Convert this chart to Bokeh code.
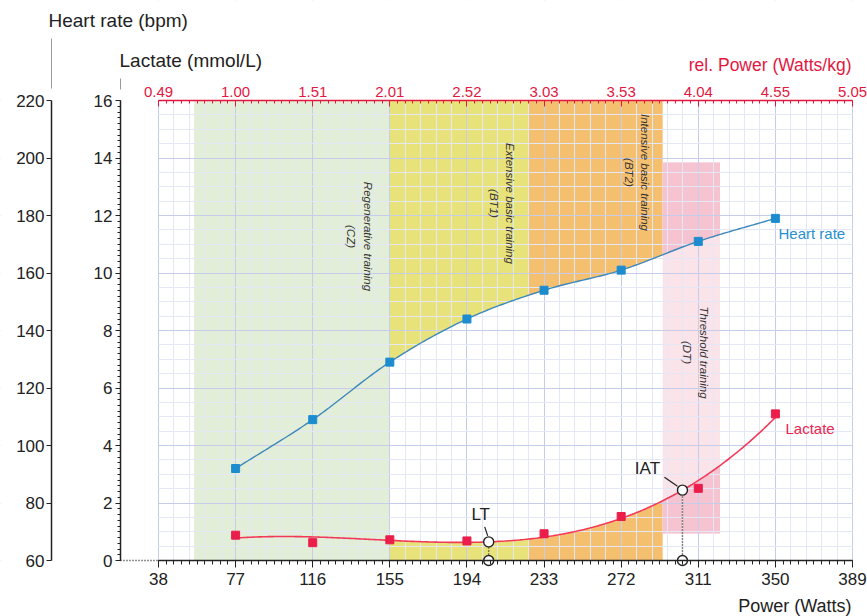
import numpy as np
from bokeh.plotting import figure
from bokeh.models import Range1d, LinearAxis, FixedTicker
from bokeh.core.properties import value
from bokeh.embed import file_html
from bokeh.resources import INLINE

# ---- step test results ----
power = [77, 116, 155, 194, 233, 272, 311, 350]
heart_rate = [92, 109, 129, 144, 154, 161, 171, 179]
lactate = [0.88, 0.62, 0.72, 0.68, 0.93, 1.53, 2.51, 5.10]

power_ticks = [38, 77, 116, 155, 194, 233, 272, 311, 350, 389]
rel_power_labels = ["0.49", "1.00", "1.51", "2.01", "2.52", "3.03", "3.53", "4.04", "4.55", "5.05"]
hr_ticks = [60, 80, 100, 120, 140, 160, 180, 200, 220]
lactate_ticks = [0, 2, 4, 6, 8, 10, 12, 14, 16]

# thresholds (power in watts)
lt_power = 205
iat_power = 303

# training zones: power range and lactate range
zone_names = ["Regenerative training\n(CZ)", "Extensive basic training\n(BT1)",
              "Intensive basic training\n(BT2)", "Threshold training\n(DT)"]
zone_start = [56, 155, 225, 293]
zone_end = [155, 225, 293, 322]
zone_bottom = [0, 0, 0, 0.94]
zone_top = [16, 16, 16, 13.84]

# ---- page geometry (pixels) ----
W, H = 867, 616
AX_L, AX_R = 158, 852            # first / last power tick
AX_T, AX_B = 100, 560            # lactate 16 / lactate 0
HR_AXIS_PX, LAC_AXIS_PX = 51, 120
PPW = (AX_R - AX_L) / (power_ticks[-1] - power_ticks[0])
PPL = (AX_B - AX_T) / (lactate_ticks[-1] - lactate_ticks[0])
HR_PER_LAC = (hr_ticks[-1] - hr_ticks[0]) / (lactate_ticks[-1] - lactate_ticks[0])


def px_x(px):
    return power_ticks[0] + (px - AX_L) / PPW


def px_y(py):
    return (AX_B - py) / PPL


FONT = "Liberation Sans"
INK = "#222222"
RED = "#e2183f"
BLUE_MARK = "#1c8ccf"
BLUE_LINE = "#3d88ba"
RED_MARK = "#ea1d4b"
RED_LINE = "#f23a58"

y_lo, y_hi = px_y(H), px_y(0)
p = figure(width=W, height=H, x_range=Range1d(px_x(0), px_x(W)),
           y_range=Range1d(y_lo, y_hi), output_backend="svg", toolbar_location=None,
           min_border=0)
p.outline_line_color = None
p.background_fill_color = "white"
p.border_fill_color = "white"
p.extra_y_ranges = {"hr": Range1d(hr_ticks[0] + y_lo * HR_PER_LAC,
                                  hr_ticks[0] + y_hi * HR_PER_LAC)}

# ---- grid ----
p.xgrid.ticker = FixedTicker(ticks=power_ticks,
                             minor_ticks=list(np.arange(38, 389.01, 7.8)))
p.ygrid.ticker = FixedTicker(ticks=lactate_ticks,
                             minor_ticks=list(np.arange(0, 16.01, 0.5)))
for g in (p.xgrid[0], p.ygrid[0]):
    g.grid_line_color = "#c6cdea"
    g.grid_line_width = 1
    g.minor_grid_line_color = "#e3e7f6"
    g.minor_grid_line_width = 1


def style_axis(ax, color, size, tick_in, tick_out, minor_in, minor_out, standoff):
    ax.axis_line_color = color
    ax.axis_line_width = 1.5
    ax.major_tick_line_color = color
    ax.minor_tick_line_color = color
    ax.major_tick_in = tick_in
    ax.major_tick_out = tick_out
    ax.minor_tick_in = minor_in
    ax.minor_tick_out = minor_out
    ax.major_label_text_font = FONT
    ax.major_label_text_font_size = size
    ax.major_label_text_color = color
    ax.major_label_standoff = standoff


# ---- axes ----
minor_power = list(np.arange(38, 389.01, 3.9))
xa = p.xaxis[0]
xa.ticker = FixedTicker(ticks=power_ticks, minor_ticks=minor_power)
xa.bounds = (power_ticks[0], power_ticks[-1])
xa.fixed_location = 0
style_axis(xa, INK, "17px", 0, 7, 0, 4, 5)

ta = LinearAxis(ticker=FixedTicker(ticks=power_ticks, minor_ticks=minor_power),
                major_label_overrides={t: s for t, s in zip(power_ticks, rel_power_labels)},
                bounds=(power_ticks[0], power_ticks[-1]), fixed_location=lactate_ticks[-1])
style_axis(ta, RED, "15px", 6, 0, 3, 0, 4)
p.add_layout(ta, "above")

ya = p.yaxis[0]
ya.ticker = FixedTicker(ticks=lactate_ticks, minor_ticks=list(np.arange(0, 16.01, 0.2)))
ya.bounds = (lactate_ticks[0], lactate_ticks[-1])
ya.fixed_location = px_x(LAC_AXIS_PX)
style_axis(ya, INK, "17px", 0, 5, 0, 3, 3)

ha = LinearAxis(y_range_name="hr", ticker=FixedTicker(ticks=hr_ticks, minor_ticks=[]),
                bounds=(hr_ticks[0], hr_ticks[-1]), fixed_location=px_x(HR_AXIS_PX))
style_axis(ha, INK, "17px", 0, 5, 0, 0, 2)
p.add_layout(ha, "left")


# ---- trend curves ----
def hermite(xk, yk, x):
    """Smooth curve passing through every measured point."""
    xk = np.asarray(xk, float)
    yk = np.asarray(yk, float)
    m = np.empty_like(yk)
    m[1:-1] = (yk[2:] - yk[:-2]) / (xk[2:] - xk[:-2])
    m[0] = (yk[1] - yk[0]) / (xk[1] - xk[0])
    m[-1] = (yk[-1] - yk[-2]) / (xk[-1] - xk[-2])
    x = np.asarray(x, float)
    i = np.clip(np.searchsorted(xk, x) - 1, 0, len(xk) - 2)
    h = xk[i + 1] - xk[i]
    t = (x - xk[i]) / h
    return ((2 * t**3 - 3 * t**2 + 1) * yk[i] + (t**3 - 2 * t**2 + t) * h * m[i]
            + (-2 * t**3 + 3 * t**2) * yk[i + 1] + (t**3 - t**2) * h * m[i + 1])


# lactate: least-squares cubic through the step values
lac_coef = np.polyfit(power, lactate, 3)


def hr_curve(x):
    return hermite(power, heart_rate, x)


def lac_curve(x):
    return np.polyval(lac_coef, x)


def hr_in_lac_units(x):
    return (hr_curve(x) - hr_ticks[0]) / HR_PER_LAC


# ---- training zones ----
GREEN = "#e3eed8"
YELLOW = "#e8e27a"
ORANGE = "#f5bf70"
PINK = "#f6c3d0"
PINK_LIGHT = "#fbe3ea"

p.quad(left=[zone_start[0]], right=[zone_end[0]], bottom=[zone_bottom[0]], top=[zone_top[0]],
       fill_color=GREEN, line_color=None, level="image")
for i, col in ((1, YELLOW), (2, ORANGE)):
    zx = np.linspace(zone_start[i], zone_end[i], 80)
    p.varea(x=zx, y1=hr_in_lac_units(zx), y2=np.full_like(zx, zone_top[i]),
            fill_color=col, level="image")
    p.varea(x=zx, y1=np.full_like(zx, zone_bottom[i]), y2=lac_curve(zx),
            fill_color=col, level="image")
p.quad(left=[zone_start[3]], right=[zone_end[3]], bottom=[zone_bottom[3]], top=[zone_top[3]],
       fill_color=PINK_LIGHT, line_color=None, level="image")
zx = np.linspace(zone_start[3], zone_end[3], 40)
p.varea(x=zx, y1=hr_in_lac_units(zx), y2=np.full_like(zx, zone_top[3]),
        fill_color=PINK, level="image")
p.varea(x=zx, y1=np.full_like(zx, zone_bottom[3]), y2=lac_curve(zx),
        fill_color=PINK, level="image")

# keep the grid inside the chart area
x_lo, x_hi = px_x(0), px_x(W)
eps = 0.25
p.quad(left=[x_lo, power_ticks[-1] + eps, x_lo, x_lo],
       right=[power_ticks[0] - eps, x_hi, x_hi, x_hi],
       bottom=[y_lo, y_lo, lactate_ticks[-1] + 0.01, y_lo],
       top=[y_hi, y_hi, y_hi, lactate_ticks[0] - 0.01],
       fill_color="white", line_color=None)

# dotted continuation of the power axis back to the lactate axis
p.segment(x0=[px_x(LAC_AXIS_PX)], y0=[0], x1=[power_ticks[0]], y1=[0],
          line_color=INK, line_width=1.5, line_dash="1 2")
# short lines leading from the axes up to their titles
p.segment(x0=[px_x(HR_AXIS_PX), px_x(LAC_AXIS_PX)], y0=[px_y(38), px_y(78)],
          x1=[px_x(HR_AXIS_PX), px_x(LAC_AXIS_PX)], y1=[px_y(88), px_y(89)],
          line_color="#9a9a9a", line_width=1)

# zone captions
zone_text_px = [(359, 236), (501.5, 203), (636.5, 172), (695, 352)]
p.text(x=[px_x(a) for a, b in zone_text_px], y=[px_y(b) for a, b in zone_text_px],
       text=zone_names, angle=-np.pi / 2, text_font=value(FONT), text_font_style="italic",
       text_font_size="11.5px", text_color="#333333", text_align="center",
       text_baseline="middle", text_line_height=1.4)

# ---- curves and markers ----
xs = np.linspace(power[0], power[-1], 280)
p.line(xs, hr_curve(xs), y_range_name="hr", line_color=BLUE_LINE, line_width=1.4)
p.line(xs, lac_curve(xs), line_color=RED_LINE, line_width=1.6)
p.scatter(power, heart_rate, y_range_name="hr", marker="square", size=8,
          fill_color=BLUE_MARK, line_color=BLUE_MARK)
p.scatter(power, lactate, marker="square", size=8, fill_color=RED_MARK, line_color=RED_MARK)

p.text(x=[px_x(778)], y=[px_y(233)], text=["Heart rate"], text_font=value(FONT),
       text_font_size="15px", text_color="#2a8fce", text_baseline="middle")
p.text(x=[px_x(785)], y=[px_y(428)], text=["Lactate"], text_font=value(FONT),
       text_font_size="15px", text_color="#e8264f", text_baseline="middle")

# ---- thresholds ----
for tp, name, lab_dx, lab_dy, l0, l1 in ((lt_power, "LT", -8, -27, (-4, -15), (-1, -6)),
                                         (iat_power, "IAT", -35, -22, (-18, -13), (-5, -4))):
    ty = float(lac_curve(tp))
    p.segment(x0=[tp], y0=[0], x1=[tp], y1=[ty], line_color=INK, line_width=1.5,
              line_dash="1 2")
    p.scatter([tp, tp], [0, ty], marker="circle", size=10, fill_color="white",
              line_color=INK, line_width=1.4)
    cx = AX_L + (tp - power_ticks[0]) * PPW
    cy = AX_B - ty * PPL
    p.text(x=[px_x(cx + lab_dx)], y=[px_y(cy + lab_dy)], text=[name], text_font=value(FONT),
           text_font_size="17px", text_color=INK, text_align="center", text_baseline="middle")
    p.segment(x0=[px_x(cx + l0[0])], y0=[px_y(cy + l0[1])], x1=[px_x(cx + l1[0])],
              y1=[px_y(cy + l1[1])], line_color=INK, line_width=1.2)

# ---- titles ----
for tx, ty, txt, col, size, align in (
        (48, 20, "Heart rate (bpm)", INK, "19px", "left"),
        (119, 60, "Lactate (mmol/L)", INK, "19px", "left"),
        (851, 64, "rel. Power (Watts/kg)", RED, "17.5px", "right"),
        (851, 605, "Power (Watts)", INK, "18px", "right")):
    p.text(x=[px_x(tx)], y=[px_y(ty)], text=[txt], text_font=value(FONT),
           text_font_size=size, text_color=col, text_align=align, text_baseline="middle")

open("out.html", "w").write(file_html(p, INLINE))
